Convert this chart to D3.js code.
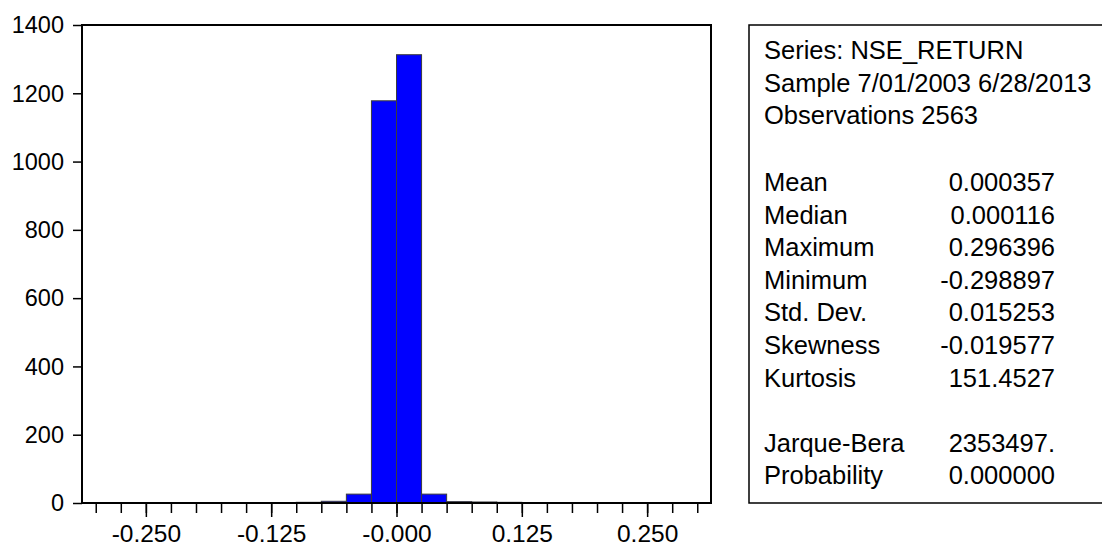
<!DOCTYPE html>
<html>
<head>
<meta charset="utf-8">
<script src="https://cdn.jsdelivr.net/npm/d3@7/dist/d3.min.js"></script>
<style>
  body { margin: 0; background: #fff; }
  svg text { font-family: Arial, "Liberation Sans", sans-serif; fill: #000; }
</style>
</head>
<body>
<div id="chart"></div>
<script>
// histogram data - bins of 0.025
var binLeft = [-0.300, -0.275, -0.250, -0.225, -0.200, -0.175, -0.150, -0.125, -0.100, -0.075, -0.050, -0.025,
    0.000, 0.025, 0.050, 0.075, 0.100, 0.125, 0.150, 0.175, 0.200, 0.225, 0.250, 0.275];
var counts = [1, 0, 0, 0, 0, 0, 0, 1, 2, 5, 26, 1178,
    1313, 26, 4, 3, 2, 1, 0, 0, 0, 0, 0, 1];
var binWidth = 0.025;

var yTicks = [0, 200, 400, 600, 800, 1000, 1200, 1400];
var xMajor = [-0.250, -0.125, 0.000, 0.125, 0.250];
var xMajorLabels = ["-0.250", "-0.125", "-0.000", "0.125", "0.250"];

var headLines = ["Series: NSE_RETURN", "Sample 7/01/2003 6/28/2013", "Observations 2563"];
var statNames = ["Mean", "Median", "Maximum", "Minimum", "Std. Dev.", "Skewness", "Kurtosis", "", "Jarque-Bera", "Probability"];
var statValues = ["0.000357", "0.000116", "0.296396", "-0.298897", "0.015253", "-0.019577", "151.4527", "", "2353497.", "0.000000"];

var svgWidth = 1102;
var svgHeight = 548;

var plot = { left: 82, right: 711, top: 25, bottom: 503 };

var svg = d3.select("#chart")
    .append("svg")
    .attr("width", svgWidth)
    .attr("height", svgHeight);

var xScale = d3.scaleLinear().domain([-0.3137, 0.3137]).range([plot.left, plot.right]);
var yScale = d3.scaleLinear().domain([0, 1400]).range([plot.bottom, plot.top]);

var bins = binLeft.map(function (b, i) { return { x0: b, x1: b + binWidth, n: counts[i] }; })
    .filter(function (d) { return d.n > 0; });

// bars
svg.append("g").selectAll("rect")
    .data(bins)
    .enter()
    .append("rect")
    .attr("x", d => xScale(d.x0))
    .attr("y", d => yScale(d.n))
    .attr("width", d => xScale(d.x1) - xScale(d.x0))
    .attr("height", d => yScale(0) - yScale(d.n))
    .attr("fill", "#0000ff")
    .attr("stroke", "#3c3c3c")
    .attr("stroke-width", 1);

// frame
svg.append("rect")
    .attr("x", plot.left)
    .attr("y", plot.top)
    .attr("width", plot.right - plot.left)
    .attr("height", plot.bottom - plot.top)
    .attr("fill", "none")
    .attr("stroke", "#000")
    .attr("stroke-width", 2);

// y axis
var leftAxis = d3.axisLeft(yScale).tickValues(yTicks).tickSize(9).tickPadding(9).tickFormat(d3.format("d"));
var yg = svg.append("g").attr("transform", `translate(${plot.left},0)`).call(leftAxis);
yg.select(".domain").remove();
yg.selectAll(".tick line").attr("stroke", "#000").attr("stroke-width", 1.5);
yg.selectAll(".tick text").attr("font-size", 23.5).attr("dy", "0.33em");

// x axis - minor then major ticks
var minorTicks = d3.range(-0.3, 0.3001, 0.025);
var minorAxis = d3.axisBottom(xScale).tickValues(minorTicks).tickSize(10).tickFormat("");
var xg1 = svg.append("g").attr("transform", `translate(0,${plot.bottom})`).call(minorAxis);
xg1.select(".domain").remove();
xg1.selectAll(".tick line").attr("stroke", "#000").attr("stroke-width", 1.5);

var majorAxis = d3.axisBottom(xScale).tickValues(xMajor).tickSize(14).tickPadding(8)
    .tickFormat((d, i) => xMajorLabels[i]);
var xg2 = svg.append("g").attr("transform", `translate(0,${plot.bottom})`).call(majorAxis);
xg2.select(".domain").remove();
xg2.selectAll(".tick line").attr("stroke", "#000").attr("stroke-width", 1.5);
xg2.selectAll(".tick text").attr("font-size", 24.5);

// stats box
var box = { left: 749, top: 25, bottom: 503 };
svg.append("path")
    .attr("d", `M${svgWidth + 5},${box.top}H${box.left}V${box.bottom}H${svgWidth + 5}`)
    .attr("fill", "none")
    .attr("stroke", "#000")
    .attr("stroke-width", 1.5);

var lineH = 32.6;
var boxFont = 25.5;
svg.append("g").selectAll("text")
    .data(headLines)
    .enter()
    .append("text")
    .attr("x", 764)
    .attr("y", (d, i) => 59 + i * lineH)
    .attr("font-size", boxFont)
    .text(d => d);

svg.append("g").selectAll("text")
    .data(statNames)
    .enter()
    .append("text")
    .attr("x", 764)
    .attr("y", (d, i) => 191 + i * lineH)
    .attr("font-size", boxFont)
    .text(d => d);

svg.append("g").selectAll("text")
    .data(statValues)
    .enter()
    .append("text")
    .attr("x", 1055)
    .attr("y", (d, i) => 191 + i * lineH)
    .attr("font-size", boxFont)
    .attr("text-anchor", "end")
    .text(d => d);
</script>
</body>
</html>
